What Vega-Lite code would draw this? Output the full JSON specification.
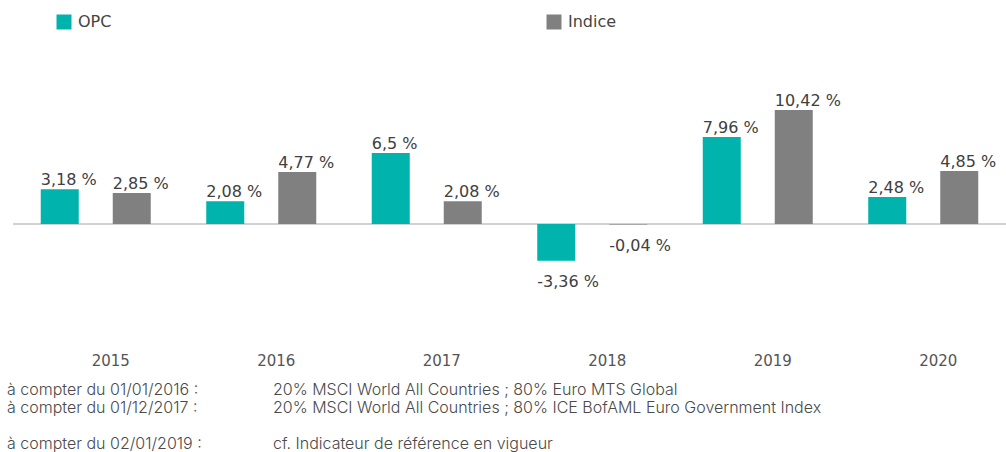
{
  "$schema": "https://vega.github.io/schema/vega-lite/v6.json",
  "padding": {"left": 7, "top": 14, "right": 0, "bottom": 0},
  "background": "#ffffff",
  "spacing": 14,
  "config": {
    "font": "DejaVu Sans",
    "view": {"stroke": null},
    "legend": {
      "orient": "none",
      "legendX": 43,
      "legendY": -46,
      "direction": "horizontal",
      "columns": 2,
      "columnPadding": 434,
      "symbolType": "square",
      "symbolSize": 225,
      "symbolStrokeWidth": 0,
      "labelOffset": 6,
      "labelFontSize": 16,
      "labelColor": "#444444",
      "labelFont": "DejaVu Sans",
      "title": null
    }
  },
  "vconcat": [
    {
      "width": 993,
      "height": 268,
      "data": {
        "values": [
          {"year": "2015", "series": "OPC", "value": 3.18, "label": "3,18 %"},
          {"year": "2015", "series": "Indice", "value": 2.85, "label": "2,85 %"},
          {"year": "2016", "series": "OPC", "value": 2.08, "label": "2,08 %"},
          {"year": "2016", "series": "Indice", "value": 4.77, "label": "4,77 %"},
          {"year": "2017", "series": "OPC", "value": 6.5, "label": "6,5 %"},
          {"year": "2017", "series": "Indice", "value": 2.08, "label": "2,08 %"},
          {"year": "2018", "series": "OPC", "value": -3.36, "label": "-3,36 %"},
          {"year": "2018", "series": "Indice", "value": -0.04, "label": "-0,04 %"},
          {"year": "2019", "series": "OPC", "value": 7.96, "label": "7,96 %"},
          {"year": "2019", "series": "Indice", "value": 10.42, "label": "10,42 %"},
          {"year": "2020", "series": "OPC", "value": 2.48, "label": "2,48 %"},
          {"year": "2020", "series": "Indice", "value": 4.85, "label": "4,85 %"}
        ]
      },
      "layer": [
        {
          "mark": {"type": "rule", "color": "#d2d2d2", "strokeWidth": 2},
          "encoding": {"y": {"datum": 0, "type": "quantitative", "scale": {"domain": [-9.5, 15], "nice": false}}}
        },
        {
          "mark": {"type": "bar"},
          "encoding": {
            "x": {"field": "year", "type": "ordinal", "scale": {"paddingInner": 0, "paddingOuter": 0},
              "axis": {"title": null, "ticks": false, "domain": false, "labelPadding": 25, "labelOffset": 15, "labelFontSize": 15, "labelColor": "#555555", "labelAngle": 0, "grid": false}},
            "xOffset": {"field": "series", "type": "nominal", "sort": ["OPC", "Indice"], "scale": {"paddingInner": 0.4722, "paddingOuter": 0.3854}},
            "y": {"field": "value", "type": "quantitative", "scale": {"domain": [-9.5, 15], "nice": false},
              "axis": {"title": null, "labels": false, "ticks": false, "domain": false, "values": [-5, 0, 5, 10, 15], "gridColor": "#ececec", "gridWidth": 1.5}},
            "color": {"field": "series", "type": "nominal", "scale": {"domain": ["OPC", "Indice"], "range": ["#00b3ad", "#808080"]}}
          }
        },
        {
          "transform": [{"filter": "datum.value >= 0"}],
          "mark": {"type": "text", "align": "left", "baseline": "alphabetic", "dx": -19, "dy": -4, "fontSize": 16, "color": "#404040"},
          "encoding": {
            "x": {"field": "year", "type": "ordinal"},
            "xOffset": {"field": "series", "type": "nominal", "sort": ["OPC", "Indice"]},
            "y": {"field": "value", "type": "quantitative"},
            "text": {"field": "label"}
          }
        },
        {
          "transform": [{"filter": "datum.value < 0"}],
          "mark": {"type": "text", "align": "left", "baseline": "top", "dx": -19, "dy": 13, "fontSize": 16, "color": "#404040"},
          "encoding": {
            "x": {"field": "year", "type": "ordinal"},
            "xOffset": {"field": "series", "type": "nominal", "sort": ["OPC", "Indice"]},
            "y": {"field": "value", "type": "quantitative"},
            "text": {"field": "label"}
          }
        }
      ]
    },
    {
      "width": 993,
      "height": 54,
      "data": {
        "values": [
          {"row": 1, "col": 0, "text": "à compter du 01/01/2016 :"},
          {"row": 1, "col": 1, "text": "20% MSCI World All Countries ; 80% Euro MTS Global"},
          {"row": 2, "col": 0, "text": "à compter du 01/12/2017 :"},
          {"row": 2, "col": 1, "text": "20% MSCI World All Countries ; 80% ICE BofAML Euro Government Index"},
          {"row": 4, "col": 0, "text": "à compter du 02/01/2019 :"},
          {"row": 4, "col": 1, "text": "cf. Indicateur de référence en vigueur"}
        ]
      },
      "mark": {"type": "text", "align": "left", "baseline": "alphabetic", "font": "Inter", "fontWeight": 300, "fontSize": 16, "color": "#4a4a4a"},
      "encoding": {
        "x": {"field": "col", "type": "quantitative", "scale": {"domain": [0, 1], "range": [-6, 260]}, "axis": null},
        "y": {"field": "row", "type": "quantitative", "scale": {"domain": [1, 4], "reverse": true}, "axis": null},
        "text": {"field": "text"}
      }
    }
  ]
}
